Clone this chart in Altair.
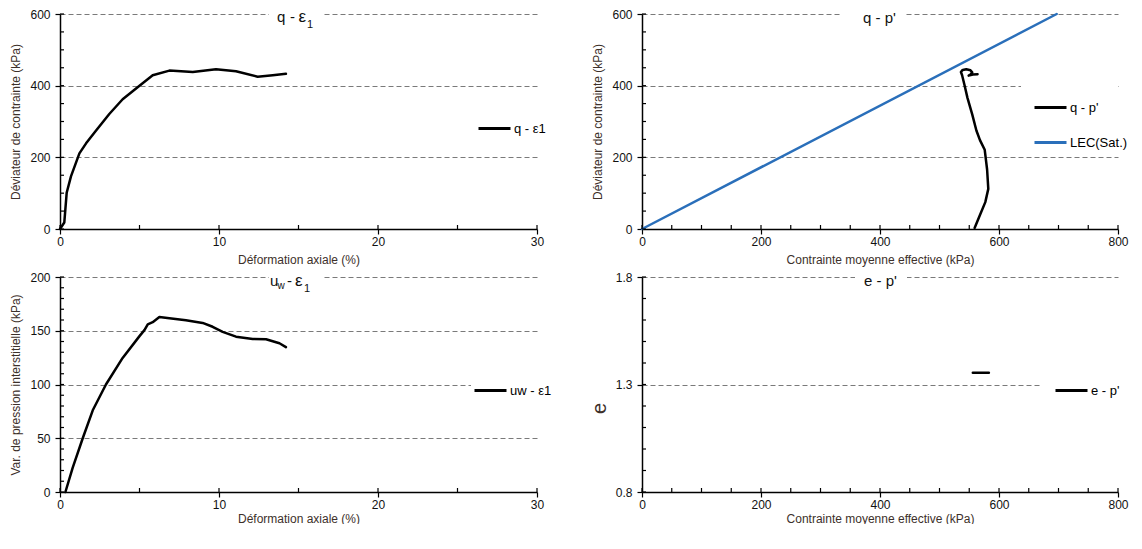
import altair as alt
import pandas as pd

FONT = "Liberation Sans"

# ---------------- data ----------------
# Panel 1 : q - eps1
eps_q = [0.0, 0.27, 0.42, 0.69, 1.22, 1.64, 2.27, 3.10, 3.94, 5.00, 5.83, 6.88,
         8.35, 9.81, 11.07, 12.43, 13.38, 14.21]
q_eps = [0, 18, 101, 147, 211, 239, 275, 321, 362, 400, 429, 442,
         438, 446, 440, 425, 429, 433]

# Panel 2 : q - p' stress path and LEC(Sat.)
p_path = [559, 568, 577, 582, 580, 576, 568, 562, 555, 547, 542, 538, 536,
          539, 545, 552, 555, 552, 549, 556, 564]
q_path = [3, 39, 75, 112, 166, 221, 248, 275, 320, 366, 402, 429, 438,
          444, 446, 443, 437, 431, 428, 431, 432]
lec_p = [0, 697]
lec_q = [0, 600]

# Panel 3 : uw - eps1
eps_u = [0.34, 0.80, 1.43, 2.06, 2.89, 3.94, 5.00, 5.31, 5.52, 5.83, 6.25, 6.88,
         7.92, 8.97, 9.60, 10.23, 11.07, 12.12, 12.96, 13.80, 14.21]
u_eps = [0, 22.6, 50, 76, 100, 124.7, 145, 150.6, 156, 158, 162.8, 161.6,
         159.8, 157.3, 153.7, 149, 144.5, 142.4, 142.1, 138.4, 134.8]

# Panel 4 : e - p'
p_e = [556, 570, 583]
e_p = [1.355, 1.355, 1.355]

# axis ticks
eps_ticks = [0, 10, 20, 30]
eps_minor = [0, 5, 10, 15, 20, 25, 30]
p_ticks = [0, 200, 400, 600, 800]
p_minor = list(range(0, 801, 50))
q_ticks = [0, 200, 400, 600]
q_minor = list(range(0, 601, 50))
u_ticks = [0, 50, 100, 150, 200]
u_minor = list(range(0, 201, 10))
e_ticks = [0.8, 1.3, 1.8]
e_minor = [0.8, 0.9, 1.0, 1.1, 1.2, 1.3, 1.4, 1.5, 1.6, 1.7, 1.8]


def frame(xs, ys, name):
    return pd.DataFrame({"x": xs, "y": ys, "s": name, "i": list(range(len(xs)))})


df1 = frame(eps_q, q_eps, "q - ε1")
df2 = pd.concat([frame(p_path, q_path, "q - p'"), frame(lec_p, lec_q, "LEC(Sat.)")])
df3 = frame(eps_u, u_eps, "uw - ε1")
df4 = frame(p_e, e_p, "e - p'")

W1, W2, H = 477, 476, 215


def panel(df, w, xdom, ydom, xticks, yticks, xminor, yminor, xfmt, yfmt,
          xtitle, xtpad, ytitle, ytx, yty, ytsize, leg_dom, leg_rng, leg_x, leg_y,
          leg_rowpad, leg_symoff, segs, rect, masks=()):
    h = H
    xenc = alt.X("x:Q", title=xtitle,
                 scale=alt.Scale(domain=xdom, nice=False, zero=False),
                 axis=alt.Axis(values=xticks, format=xfmt, grid=False,
                               labelFlush=False, labelPadding=2,
                               titlePadding=xtpad))
    yenc = alt.Y("y:Q", title=ytitle,
                 scale=alt.Scale(domain=ydom, nice=False, zero=False),
                 axis=alt.Axis(values=yticks, format=yfmt, grid=True,
                               gridDash=[5, 3], gridColor="#7a7a7a", gridWidth=1,
                               labelFlush=False, labelPadding=5,
                               titleX=ytx, titleY=yty,
                               titleAngle=270, titleBaseline="alphabetic",
                               titleAlign="center", titleFontSize=ytsize))
    line = alt.Chart(df).mark_line(strokeWidth=2.5, strokeJoin="round",
                                   strokeCap="round").encode(
        x=xenc, y=yenc, order="i:Q",
        color=alt.Color("s:N", scale=alt.Scale(domain=leg_dom, range=leg_rng),
                        legend=alt.Legend(orient="none", legendX=leg_x, legendY=leg_y,
                                          title=None, symbolType="stroke",
                                          symbolSize=1024, symbolStrokeWidth=3,
                                          symbolOffset=leg_symoff,
                                          labelFont=FONT, labelFontSize=13,
                                          labelColor="black", fillColor="white",
                                          padding=2, rowPadding=leg_rowpad,
                                          labelOffset=2)))
    xt = alt.Chart(pd.DataFrame({"x": xminor})).mark_rule(
        color="black", strokeWidth=1.2).encode(
        x=xenc, y=alt.value(h - 4), y2=alt.value(h))
    yt = alt.Chart(pd.DataFrame({"y": yminor})).mark_rule(
        color="black", strokeWidth=1.2).encode(
        y=yenc, x=alt.value(0), x2=alt.value(4))
    one = pd.DataFrame({"a": [0]})
    layers = [line, xt, yt]
    for (a, b, c, d) in [(rect[0], rect[1], -4, 17)] + list(masks):
        layers.append(alt.Chart(one).mark_rect(color="white").encode(
            x=alt.value(a), x2=alt.value(b), y=alt.value(c), y2=alt.value(d)))
    for (t, px, py, sz) in segs:
        layers.append(alt.Chart(one).mark_text(
            text=t, font=FONT, fontSize=sz, align="left", baseline="alphabetic",
            color="#111").encode(x=alt.value(px), y=alt.value(py)))
    return alt.layer(*layers).properties(width=w, height=h)


p1 = panel(df1, W1, [0, 30], [0, 600], eps_ticks, q_ticks, eps_minor, q_minor,
           "d", "d", "Déformation axiale (%)", 7, "Déviateur de contrainte (kPa)",
           -41, H / 2, 12, ["q - ε1"], ["black"], 415, 95, 10, 0,
           [("q", 217, 8, 15), ("-", 230, 8, 15), ("ε", 238.5, 8, 17), ("1", 247, 13.5, 11)],
           (209, 264))
p2 = panel(df2, W2, [0, 800], [0, 600], p_ticks, q_ticks, p_minor, q_minor,
           "d", "d", "Contrainte moyenne effective (kPa)", 7, "Déviateur de contrainte (kPa)",
           -41, H / 2, 12, ["q - p'", "LEC(Sat.)"], ["black", "#2a6fba"], 379, 74, 10, 10,
           [("q - p'", 221, 8.5, 15)], (198, 263), masks=[(379, 476, 69, 75)])
p3 = panel(df3, W1, [0, 30], [0, 200], eps_ticks, u_ticks, eps_minor, u_minor,
           "d", "d", "Déformation axiale (%)", 3, "Var. de pression interstitielle (kPa)",
           -41, H / 2, 12, ["uw - ε1"], ["black"], 411, 94, 10, 0,
           [("u", 210, 9.3, 15), ("w", 217.5, 11.5, 10), ("-", 227, 9.3, 15),
            ("ε", 235, 9.3, 17), ("1", 244, 15, 11)],
           (209, 264))
p4 = panel(df4, W2, [0, 800], [0.8, 1.8], p_ticks, e_ticks, p_minor, e_minor,
           "d", ".1f", "Contrainte moyenne effective (kPa)", 3, "e",
           -37, 131, 20, ["e - p'"], ["black"], 400, 94, 10, 10,
           [("e - p'", 222, 8.5, 15)], (213, 265))

chart = alt.concat(p1, p2, p3, p4, columns=2,
                   spacing={"row": 48, "column": 105},
                   bounds="flush", align="each").resolve_scale(
    color="independent", x="independent", y="independent").resolve_legend(
    color="independent").properties(
    padding={"left": 0, "top": 0, "right": 0, "bottom": 0}).configure_view(
    stroke=None).configure_axis(
    labelFont=FONT, titleFont=FONT, labelFontSize=12, labelColor="#111",
    titleFontSize=12, titleFontWeight="normal", titleColor="#3d302a",
    domainColor="black", domainWidth=1.5, tickColor="black", tickWidth=1.2,
    tickSize=5)

chart.save("out.html", embed_options={"renderer": "svg", "actions": False})
